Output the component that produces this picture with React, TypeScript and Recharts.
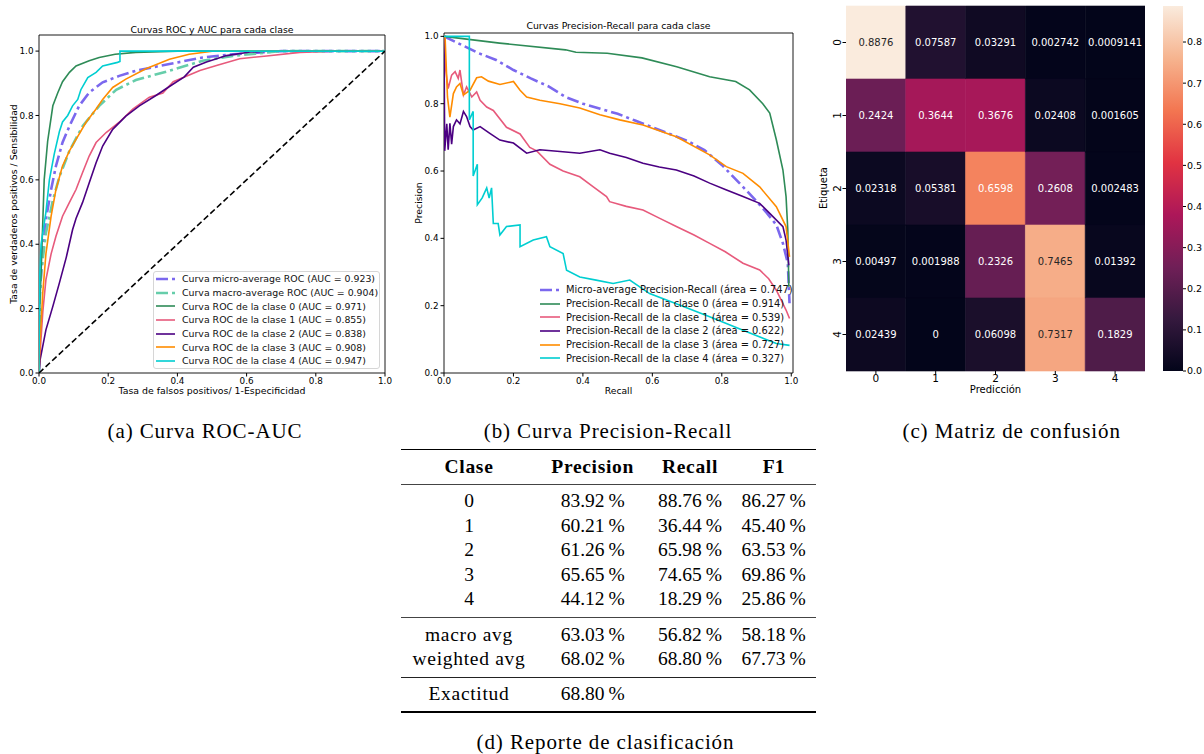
import React from 'react'
import { LineChart, Line, XAxis, YAxis, ReferenceArea, Legend, BarChart, Bar, Cell, LabelList } from 'recharts'

// ---------- Curvas ROC: pares [fpr, tpr] ----------
const rocMicro: [number, number][] = [[0, 0], [0.002, 0.25], [0.011, 0.373], [0.02, 0.477], [0.035, 0.57], [0.049, 0.643], [0.068, 0.716], [0.088, 0.767], [0.116, 0.83], [0.145, 0.871], [0.184, 0.903], [0.232, 0.923], [0.28, 0.939], [0.377, 0.96], [0.473, 0.98], [0.56, 0.99], [0.7, 1], [1, 1]]
const rocMacro: [number, number][] = [[0, 0], [0.002, 0.22], [0.006, 0.31], [0.02, 0.435], [0.04, 0.536], [0.059, 0.61], [0.088, 0.69], [0.126, 0.767], [0.174, 0.83], [0.223, 0.88], [0.28, 0.91], [0.377, 0.939], [0.473, 0.97], [0.56, 0.985], [0.7, 1], [1, 1]]
const rocClase0: [number, number][] = [[0, 0], [0.002, 0.2], [0.006, 0.31], [0.015, 0.6], [0.025, 0.72], [0.04, 0.83], [0.054, 0.87], [0.068, 0.905], [0.088, 0.934], [0.107, 0.954], [0.145, 0.97], [0.174, 0.98], [0.22, 0.99], [0.28, 0.996], [0.4, 1], [1, 1]]
const rocClase1: [number, number][] = [[0, 0], [0.003, 0.06], [0.011, 0.19], [0.02, 0.29], [0.035, 0.37], [0.049, 0.425], [0.068, 0.487], [0.088, 0.53], [0.107, 0.57], [0.126, 0.623], [0.145, 0.674], [0.165, 0.716], [0.194, 0.747], [0.232, 0.779], [0.271, 0.82], [0.319, 0.857], [0.358, 0.87], [0.388, 0.905], [0.465, 0.94], [0.513, 0.955], [0.58, 0.976], [0.658, 0.985], [0.754, 0.996], [0.85, 1], [1, 1]]
const rocClase2: [number, number][] = [[0, 0], [0.003, 0.04], [0.02, 0.134], [0.04, 0.207], [0.059, 0.28], [0.079, 0.36], [0.097, 0.445], [0.107, 0.48], [0.126, 0.53], [0.145, 0.59], [0.165, 0.653], [0.184, 0.705], [0.213, 0.757], [0.251, 0.798], [0.29, 0.83], [0.338, 0.862], [0.377, 0.89], [0.42, 0.92], [0.446, 0.95], [0.484, 0.966], [0.542, 0.986], [0.61, 0.997], [0.66, 1], [1, 1]]
const rocClase3: [number, number][] = [[0, 0], [0.003, 0.1], [0.011, 0.25], [0.02, 0.37], [0.035, 0.487], [0.049, 0.57], [0.068, 0.643], [0.088, 0.69], [0.107, 0.726], [0.136, 0.779], [0.165, 0.82], [0.184, 0.85], [0.213, 0.887], [0.251, 0.913], [0.309, 0.945], [0.377, 0.975], [0.434, 0.99], [0.49, 0.998], [0.5, 1], [1, 1]]
const rocClase4: [number, number][] = [[0, 0], [0.002, 0.3], [0.006, 0.4], [0.02, 0.5], [0.03, 0.6], [0.044, 0.68], [0.059, 0.75], [0.068, 0.78], [0.083, 0.8], [0.097, 0.83], [0.112, 0.85], [0.121, 0.88], [0.141, 0.918], [0.165, 0.934], [0.184, 0.954], [0.227, 0.965], [0.234, 0.968], [0.234, 1], [1, 1]]
const rocAzar: [number, number][] = [[0, 0], [1, 1]]

// ---------- Curvas Precision-Recall: pares [recall, precision] ----------
const prMicro: [number, number][] = [[0, 1], [0.05, 0.975], [0.1, 0.95], [0.15, 0.93], [0.2, 0.9], [0.25, 0.875], [0.3, 0.852], [0.35, 0.82], [0.4, 0.8], [0.45, 0.785], [0.5, 0.77], [0.55, 0.75], [0.6, 0.73], [0.65, 0.71], [0.7, 0.69], [0.75, 0.662], [0.8, 0.618], [0.85, 0.565], [0.9, 0.51], [0.93, 0.475], [0.957, 0.44], [0.976, 0.385], [0.99, 0.326], [0.995, 0.207]]
const prClase0: [number, number][] = [[0, 1], [0.16, 0.98], [0.35, 0.96], [0.38, 0.953], [0.47, 0.95], [0.57, 0.936], [0.67, 0.91], [0.765, 0.88], [0.84, 0.866], [0.88, 0.841], [0.918, 0.8], [0.938, 0.772], [0.957, 0.693], [0.976, 0.603], [0.985, 0.524], [0.99, 0.425], [0.993, 0.256]]
const prClase1: [number, number][] = [[0, 1], [0.005, 0.9], [0.012, 0.845], [0.022, 0.885], [0.032, 0.895], [0.041, 0.875], [0.046, 0.9], [0.056, 0.826], [0.065, 0.85], [0.08, 0.82], [0.094, 0.835], [0.104, 0.81], [0.123, 0.79], [0.142, 0.78], [0.18, 0.73], [0.219, 0.71], [0.247, 0.67], [0.267, 0.66], [0.305, 0.62], [0.343, 0.6], [0.391, 0.583], [0.43, 0.553], [0.468, 0.524], [0.477, 0.509], [0.525, 0.495], [0.573, 0.484], [0.62, 0.46], [0.669, 0.435], [0.72, 0.41], [0.765, 0.385], [0.81, 0.36], [0.861, 0.326], [0.909, 0.306], [0.935, 0.28], [0.957, 0.246], [0.985, 0.187], [0.995, 0.162]]
const prClase2: [number, number][] = [[0, 1], [0.002, 0.66], [0.008, 0.74], [0.012, 0.663], [0.017, 0.742], [0.022, 0.68], [0.027, 0.732], [0.036, 0.752], [0.046, 0.74], [0.056, 0.777], [0.065, 0.762], [0.075, 0.732], [0.084, 0.722], [0.104, 0.732], [0.132, 0.712], [0.161, 0.692], [0.2, 0.683], [0.238, 0.653], [0.276, 0.663], [0.334, 0.658], [0.391, 0.653], [0.449, 0.663], [0.477, 0.653], [0.525, 0.64], [0.573, 0.623], [0.62, 0.612], [0.669, 0.603], [0.72, 0.585], [0.765, 0.564], [0.81, 0.545], [0.861, 0.524], [0.909, 0.504], [0.938, 0.474], [0.976, 0.435], [0.985, 0.395], [0.993, 0.32]]
const prClase3: [number, number][] = [[0, 1], [0.003, 1], [0.01, 0.82], [0.017, 0.76], [0.027, 0.83], [0.036, 0.85], [0.046, 0.86], [0.056, 0.826], [0.075, 0.84], [0.094, 0.877], [0.108, 0.88], [0.128, 0.867], [0.161, 0.857], [0.2, 0.866], [0.219, 0.84], [0.238, 0.82], [0.276, 0.81], [0.334, 0.8], [0.391, 0.787], [0.449, 0.767], [0.506, 0.752], [0.573, 0.737], [0.669, 0.702], [0.765, 0.648], [0.813, 0.613], [0.861, 0.593], [0.909, 0.553], [0.957, 0.494], [0.985, 0.435], [0.995, 0.345]]
const prClase4: [number, number][] = [[0, 1], [0.073, 1], [0.073, 0.752], [0.084, 0.777], [0.084, 0.585], [0.096, 0.62], [0.096, 0.5], [0.11, 0.52], [0.123, 0.55], [0.13, 0.52], [0.137, 0.55], [0.142, 0.444], [0.156, 0.444], [0.161, 0.41], [0.18, 0.435], [0.219, 0.44], [0.219, 0.375], [0.257, 0.395], [0.295, 0.405], [0.305, 0.375], [0.343, 0.355], [0.353, 0.305], [0.391, 0.285], [0.438, 0.276], [0.487, 0.266], [0.535, 0.276], [0.592, 0.236], [0.669, 0.206], [0.765, 0.167], [0.861, 0.127], [0.957, 0.0875], [0.995, 0.082]]

const ticksEje = [0, 0.2, 0.4, 0.6, 0.8, 1]

// ---------- Matriz de confusión normalizada ----------
const clases = ['0', '1', '2', '3', '4']
const matriz = [
  [0.8876, 0.07587, 0.03291, 0.002742, 0.0009141],
  [0.2424, 0.3644, 0.3676, 0.02408, 0.001605],
  [0.02318, 0.05381, 0.6598, 0.2608, 0.002483],
  [0.00497, 0.001988, 0.2326, 0.7465, 0.01392],
  [0.02439, 0, 0.06098, 0.7317, 0.1829],
]
const ticksColorbar = [0, 0.1, 0.2, 0.3, 0.4, 0.5, 0.6, 0.7, 0.8]

// ---------- Reporte de clasificación ----------
const reporteClases = ['0', '1', '2', '3', '4']
const reportePrecision = [83.92, 60.21, 61.26, 65.65, 44.12]
const reporteRecall = [88.76, 36.44, 65.98, 74.65, 18.29]
const reporteF1 = [86.27, 45.4, 63.53, 69.86, 25.86]
const promediosNombres = ['macro avg', 'weighted avg']
const promediosPrecision = [63.03, 68.02]
const promediosRecall = [56.82, 68.8]
const promediosF1 = [58.18, 67.73]
const exactitud = 68.8

const SANS = 'DejaVu Sans'
const SERIF = '"Liberation Serif", serif'
const DASHDOT = '12 4 3 4'

const rocSeries = [
  { nombre: 'Curva micro-average ROC (AUC = 0.923)', puntos: rocMicro, color: '#7B68EE', grosor: 2.6, trazo: DASHDOT },
  { nombre: 'Curva macro-average ROC (AUC = 0.904)', puntos: rocMacro, color: '#66CDAA', grosor: 2.6, trazo: DASHDOT },
  { nombre: 'Curva ROC de la clase 0 (AUC = 0.971)', puntos: rocClase0, color: '#2E8B57', grosor: 1.6 },
  { nombre: 'Curva ROC de la clase 1 (AUC = 0.855)', puntos: rocClase1, color: '#E75A7C', grosor: 1.6 },
  { nombre: 'Curva ROC de la clase 2 (AUC = 0.838)', puntos: rocClase2, color: '#4B0082', grosor: 1.6 },
  { nombre: 'Curva ROC de la clase 3 (AUC = 0.908)', puntos: rocClase3, color: '#FF8C00', grosor: 1.6 },
  { nombre: 'Curva ROC de la clase 4 (AUC = 0.947)', puntos: rocClase4, color: '#00CED1', grosor: 1.6 },
]
const prSeries = [
  { nombre: 'Micro-average Precision-Recall (área = 0.747)', puntos: prMicro, color: '#7B68EE', grosor: 2.6, trazo: DASHDOT },
  { nombre: 'Precision-Recall de la clase 0 (área = 0.914)', puntos: prClase0, color: '#2E8B57', grosor: 1.6 },
  { nombre: 'Precision-Recall de la clase 1 (área = 0.539)', puntos: prClase1, color: '#E75A7C', grosor: 1.6 },
  { nombre: 'Precision-Recall de la clase 2 (área = 0.622)', puntos: prClase2, color: '#4B0082', grosor: 1.6 },
  { nombre: 'Precision-Recall de la clase 3 (área = 0.727)', puntos: prClase3, color: '#FF8C00', grosor: 1.6 },
  { nombre: 'Precision-Recall de la clase 4 (área = 0.327)', puntos: prClase4, color: '#00CED1', grosor: 1.6 },
]

const aPuntos = (pares: [number, number][]) => pares.map(([x, y]) => ({ x, y }))

// colormap "rocket" de seaborn (aprox.)
const ROCKET = ['#03051A', '#35193E', '#701F57', '#AD1759', '#E13342', '#F37651', '#F6B48F', '#FAEBDD']
const hexRgb = (h: string) => [1, 3, 5].map((i) => parseInt(h.slice(i, i + 2), 16))
function rocketRgb(t: number) {
  const p = Math.max(0, Math.min(1, t)) * (ROCKET.length - 1)
  const i = Math.min(ROCKET.length - 2, Math.floor(p))
  const f = p - i
  const a = hexRgb(ROCKET[i])
  const b = hexRgb(ROCKET[i + 1])
  return a.map((v, k) => Math.round(v + (b[k] - v) * f))
}
const rgbStr = (c: number[]) => `rgb(${c.join(',')})`
function luminancia(c: number[]) {
  const l = c.map((v) => {
    const s = v / 255
    return s <= 0.03928 ? s / 12.92 : Math.pow((s + 0.055) / 1.055, 2.4)
  })
  return 0.2126 * l[0] + 0.7152 * l[1] + 0.0722 * l[2]
}
const vmax = Math.max(...matriz.flat())
const vmin = Math.min(...matriz.flat())
const formato = (v: number) => String(parseFloat(v.toPrecision(4)))

const filasHeat = clases.map((c, i) => {
  const fila: Record<string, any> = { fila: c }
  clases.forEach((_, j) => {
    fila['c' + j] = 1
    fila['v' + j] = matriz[i][j]
  })
  return fila
})

function Texto({ x, y, size, rot, family = SANS, spacing = 0, children }: any) {
  return (
    <div
      style={{
        position: 'absolute',
        left: x,
        top: y,
        transform: `translate(-50%, -50%)${rot ? ` rotate(${rot}deg)` : ''}`,
        whiteSpace: 'nowrap',
        fontSize: size,
        fontFamily: family,
        letterSpacing: spacing,
        lineHeight: 1,
        color: '#000',
      }}
    >
      {children}
    </div>
  )
}

function Leyenda({ series, marco, muestra, hueco, size }: any) {
  return (
    <div
      style={{
        fontFamily: SANS,
        fontSize: size,
        color: '#111',
        background: marco ? 'rgba(255,255,255,0.85)' : 'transparent',
        border: marco ? '1px solid #d6d6d6' : 'none',
        borderRadius: 3,
        padding: '0 2px',
        boxSizing: 'border-box',
      }}
    >
      {series.map((s: any) => (
        <div key={s.nombre} style={{ display: 'flex', alignItems: 'center', height: 13.7, whiteSpace: 'nowrap' }}>
          <svg width={muestra} height={6} style={{ flex: 'none' }}>
            <line x1={0} y1={3} x2={muestra} y2={3} stroke={s.color} strokeWidth={s.grosor} strokeDasharray={s.trazo} />
          </svg>
          <span style={{ marginLeft: hueco }}>{s.nombre}</span>
        </div>
      ))}
    </div>
  )
}

const tickStyle = { fontSize: 8.8, fontFamily: SANS, fill: '#000' }

function CeldaTexto(props: any) {
  const { x, y, width, height, value } = props
  const v = Number(value)
  const rgb = rocketRgb((v - vmin) / (vmax - vmin))
  const color = luminancia(rgb) > 0.408 ? '#262626' : '#ffffff'
  return (
    <text x={x + width / 2} y={y + height / 2} textAnchor="middle" dominantBaseline="central" fill={color} fontSize={10} fontFamily={SANS}>
      {formato(v)}
    </text>
  )
}

function TickFila(props: any) {
  const { x, y, payload } = props
  const cx = x - 4
  return (
    <text x={cx} y={y} transform={`rotate(-90, ${cx}, ${y})`} textAnchor="middle" dominantBaseline="central" fontSize={10.5} fontFamily={SANS} fill="#000">
      {payload.value}
    </text>
  )
}

const ANCHOS = [136, 111.4, 83.2, 84.1]
const pct = (v: number) => `${v.toFixed(2)}\u2009%`

function Fila({ celdas, alto, negrita }: any) {
  return (
    <div style={{ display: 'flex', height: alto, lineHeight: `${alto}px`, fontWeight: negrita ? 700 : 400 }}>
      {celdas.map((c: string, i: number) => (
        <div key={i} style={{ width: ANCHOS[i], textAlign: 'center', whiteSpace: 'nowrap', letterSpacing: /\d/.test(c) ? 0 : 0.7 }}>{c}</div>
      ))}
    </div>
  )
}
const Regla = ({ h, color = '#000' }: any) => <div style={{ height: h, background: color }} />
const Hueco = ({ h }: any) => <div style={{ height: h }} />

export default function App() {
  return (
    <div style={{ position: 'absolute', left: 0, top: 0, width: 1204, height: 754, background: '#fff', overflow: 'hidden' }}>
      {/* (a) ROC */}
      <div style={{ position: 'absolute', left: 0, top: 0 }}>
        <LineChart width={400} height={405} margin={{ top: 35, right: 15, bottom: 0, left: 0 }}>
          <XAxis type="number" dataKey="x" domain={[0, 1]} ticks={ticksEje} tickFormatter={(v) => v.toFixed(1)} allowDataOverflow axisLine={false} tickSize={3.5} tickMargin={1} height={32} tick={tickStyle} tickLine={{ stroke: '#000' }} />
          <YAxis type="number" dataKey="y" domain={[0, 1.05]} ticks={ticksEje} tickFormatter={(v) => v.toFixed(1)} allowDataOverflow axisLine={false} tickSize={3.5} tickMargin={2} width={39} tick={tickStyle} tickLine={{ stroke: '#000' }} />
          {rocSeries.map((s) => (
            <Line key={s.nombre} data={aPuntos(s.puntos)} dataKey="y" type="linear" stroke={s.color} strokeWidth={s.grosor} strokeDasharray={s.trazo} dot={false} activeDot={false} isAnimationActive={false} />
          ))}
          <Line data={aPuntos(rocAzar)} dataKey="y" type="linear" stroke="#000" strokeWidth={1.6} strokeDasharray="6 3" dot={false} activeDot={false} isAnimationActive={false} legendType="none" />
          <ReferenceArea x1={0} x2={1} y1={0} y2={1.05} fill="none" stroke="#000" strokeWidth={0.9} ifOverflow="visible" />
          <Legend layout="vertical" align="center" verticalAlign="middle" wrapperStyle={{ left: 153, top: 271, width: 227 }} content={() => <Leyenda series={rocSeries} marco muestra={19} hueco={7} size={9.4} />} />
        </LineChart>
      </div>
      <Texto x={212} y={30} size={9.3}>Curvas ROC y AUC para cada clase</Texto>
      <Texto x={13.5} y={204} size={9.3} rot={-90}>Tasa de verdaderos positivos / Sensibilidad</Texto>
      <Texto x={212} y={391} size={9.4}>Tasa de falsos positivos/ 1-Especificidad</Texto>

      {/* (b) Precision-Recall */}
      <div style={{ position: 'absolute', left: 405, top: 0 }}>
        <LineChart width={400} height={405} margin={{ top: 33, right: 12, bottom: 0, left: 0 }}>
          <XAxis type="number" dataKey="x" domain={[0, 1.005]} ticks={ticksEje} tickFormatter={(v) => v.toFixed(1)} allowDataOverflow axisLine={false} tickSize={3.5} tickMargin={1} height={32} tick={tickStyle} tickLine={{ stroke: '#000' }} />
          <YAxis type="number" dataKey="y" domain={[0, 1.01]} ticks={ticksEje} tickFormatter={(v) => v.toFixed(1)} allowDataOverflow axisLine={false} tickSize={3.5} tickMargin={2} width={39} tick={tickStyle} tickLine={{ stroke: '#000' }} />
          {prSeries.map((s) => (
            <Line key={s.nombre} data={aPuntos(s.puntos)} dataKey="y" type="linear" stroke={s.color} strokeWidth={s.grosor} strokeDasharray={s.trazo} dot={false} activeDot={false} isAnimationActive={false} />
          ))}
          <ReferenceArea x1={0} x2={1.005} y1={0} y2={1.01} fill="none" stroke="#000" strokeWidth={0.9} ifOverflow="visible" />
          <Legend layout="vertical" align="center" verticalAlign="middle" wrapperStyle={{ left: 133, top: 283, width: 262 }} content={() => <Leyenda series={prSeries} muestra={20} hueco={6} size={9.9} />} />
        </LineChart>
      </div>
      <Texto x={618.5} y={26} size={9.3}>Curvas Precision-Recall para cada clase</Texto>
      <Texto x={419} y={202.7} size={9.3} rot={-90}>Precision</Texto>
      <Texto x={618.5} y={391} size={9.2}>Recall</Texto>

      {/* (c) Matriz de confusión */}
      <div style={{ position: 'absolute', left: 810, top: 0 }}>
        <BarChart width={340} height={400} layout="vertical" data={filasHeat} margin={{ top: 6, right: 5, bottom: 0, left: 0 }} barCategoryGap={0} barGap={0}>
          <XAxis type="number" domain={[0, clases.length]} ticks={clases.map((_, j) => j + 0.5)} tickFormatter={(v) => clases[Math.floor(v)]} allowDataOverflow axisLine={false} tickSize={3.5} tickMargin={0} height={29} tick={{ fontSize: 10.5, fontFamily: SANS, fill: '#000' }} tickLine={{ stroke: '#000' }} />
          <YAxis type="category" dataKey="fila" width={36} axisLine={false} tickSize={3.5} tickMargin={2} tick={<TickFila />} tickLine={{ stroke: '#000' }} />
          {clases.map((_, j) => (
            <Bar key={j} dataKey={'c' + j} stackId="m" isAnimationActive={false}>
              {filasHeat.map((_, i) => {
                const c = rgbStr(rocketRgb((matriz[i][j] - vmin) / (vmax - vmin)))
                return <Cell key={i} fill={c} stroke={c} strokeWidth={0.6} />
              })}
              <LabelList dataKey={'v' + j} content={<CeldaTexto />} />
            </Bar>
          ))}
        </BarChart>
      </div>
      <div style={{ position: 'absolute', left: 1150, top: 0 }}>
        <BarChart width={54} height={400} data={[{ n: 'barra', v: vmax }]} margin={{ top: 6, right: 0, bottom: 29, left: 13 }} barCategoryGap={0}>
          <defs>
            <linearGradient id="rocketGrad" x1="0" y1="1" x2="0" y2="0">
              {ROCKET.map((c, i) => (
                <stop key={i} offset={i / (ROCKET.length - 1)} stopColor={c} />
              ))}
            </linearGradient>
          </defs>
          <XAxis type="category" dataKey="n" hide />
          <YAxis type="number" orientation="right" domain={[vmin, vmax]} ticks={ticksColorbar} tickFormatter={(v) => v.toFixed(1)} allowDataOverflow axisLine={false} tickSize={3} tickMargin={1} width={21} tick={{ fontSize: 9.5, fontFamily: SANS, fill: '#000' }} tickLine={{ stroke: '#000' }} />
          <Bar dataKey="v" fill="url(#rocketGrad)" isAnimationActive={false} />
        </BarChart>
      </div>
      <Texto x={995.5} y={390} size={10}>Predicción</Texto>
      <Texto x={824} y={188} size={10} rot={-90}>Etiqueta</Texto>

      {/* Subtítulos */}
      <Texto x={205} y={431} size={21} family={SERIF} spacing={0.9}>(a) Curva ROC-AUC</Texto>
      <Texto x={608} y={431} size={21} family={SERIF} spacing={0.9}>(b) Curva Precision-Recall</Texto>
      <Texto x={1011.7} y={431} size={21} family={SERIF} spacing={0.9}>(c) Matriz de confusión</Texto>

      {/* (d) Tabla */}
      <div style={{ position: 'absolute', left: 401, top: 448.5, width: 415, fontFamily: SERIF, fontSize: 19.5, color: '#000' }}>
        <Regla h={1.5} />
        <Fila alto={33.5} negrita celdas={['Clase', 'Precision', 'Recall', 'F1']} />
        <Regla h={0.8} color="#444" />
        <Hueco h={5} />
        {reporteClases.map((c, i) => (
          <Fila key={c} alto={24.5} celdas={[c, pct(reportePrecision[i]), pct(reporteRecall[i]), pct(reporteF1[i])]} />
        ))}
        <Hueco h={5} />
        <Regla h={0.8} color="#444" />
        <Hueco h={5} />
        {promediosNombres.map((n, i) => (
          <Fila key={n} alto={24.5} celdas={[n, pct(promediosPrecision[i]), pct(promediosRecall[i]), pct(promediosF1[i])]} />
        ))}
        <Hueco h={5} />
        <Regla h={0.8} color="#222" />
        <Hueco h={4.3} />
        <Fila alto={24.5} celdas={['Exactitud', pct(exactitud), '', '']} />
        <Hueco h={5} />
        <Regla h={1.5} />
      </div>
      <Texto x={605.5} y={741.7} size={21} family={SERIF} spacing={0.9}>(d) Reporte de clasificación</Texto>
    </div>
  )
}
